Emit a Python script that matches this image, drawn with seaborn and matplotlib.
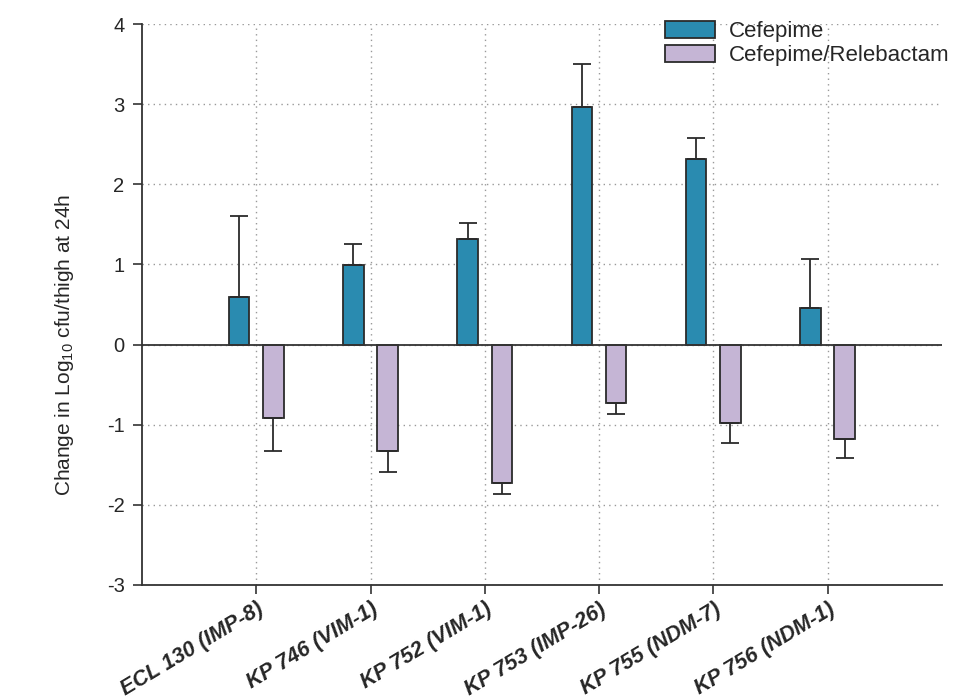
import pandas as pd
import matplotlib.pyplot as plt
import seaborn as sns

# values
strains = ['ECL 130 (IMP-8)', 'KP 746 (VIM-1)', 'KP 752 (VIM-1)',
           'KP 753 (IMP-26)', 'KP 755 (NDM-7)', 'KP 756 (NDM-1)']
cefepime = [0.59, 0.99, 1.32, 2.96, 2.31, 0.46]
cefepime_err = [1.01, 0.26, 0.20, 0.54, 0.27, 0.61]
combo = [-0.92, -1.33, -1.73, -0.73, -0.98, -1.18]
combo_err = [0.41, 0.26, 0.13, 0.14, 0.25, 0.23]
treatments = ['Cefepime', 'Cefepime/Relebactam']
colors = ['#2a8bb0', '#c5b5d5']

df = pd.DataFrame({
    'strain': strains * 2,
    'change': cefepime + combo,
    'treatment': [treatments[0]] * 6 + [treatments[1]] * 6,
})

sns.set_style("white")
plt.rcParams['font.family'] = ['Liberation Sans', 'DejaVu Sans']
plt.rcParams['axes.unicode_minus'] = False
plt.rcParams['mathtext.fontset'] = 'custom'
plt.rcParams['mathtext.rm'] = 'Liberation Sans'
plt.rcParams['mathtext.it'] = 'Liberation Sans:italic'

fig = plt.figure(figsize=(9.69, 7), dpi=100)
ax = fig.add_axes([0.1465, 0.1643, 0.8255, 0.8014])

sns.barplot(data=df, x='strain', y='change', hue='treatment', palette=colors,
            saturation=1, width=0.6, gap=0.4, edgecolor='#2b2b2b',
            linewidth=1.3, errorbar=None, ax=ax)

# one-sided error bars, placed on the bars seaborn drew
errs = [cefepime_err, combo_err]
vals = [cefepime, combo]
for cont, e, v in zip(ax.containers, errs, vals):
    xs = [b.get_x() + b.get_width() / 2 for b in cont]
    lo = [err if val < 0 else 0 for err, val in zip(e, v)]
    hi = [err if val >= 0 else 0 for err, val in zip(e, v)]
    ax.errorbar(xs, v, yerr=[lo, hi], fmt='none', ecolor='#2b2b2b',
                elinewidth=1.3, capsize=6.5, capthick=1.3, zorder=1)

ax.axhline(0, color='#333333', lw=1.3, zorder=3)
ax.set_xlim(-1, 6)
ax.set_ylim(-3, 4)
ax.set_yticks(range(-3, 5))
ax.grid(True, linestyle=(0, (1, 3)), color='#999999', linewidth=1)
ax.set_axisbelow(True)

for s in ['top', 'right']:
    ax.spines[s].set_visible(False)
for s in ['left', 'bottom']:
    ax.spines[s].set_color('#333333')
    ax.spines[s].set_linewidth(1.3)

ax.tick_params(axis='both', bottom=True, left=True, direction='out',
               length=6.5, width=1.2, color='#333333', labelsize=14.5)
ax.tick_params(axis='y', pad=6)
ax.set_xlabel('')
ax.set_ylabel(r'Change in Log$_{10}$ cfu/thigh at 24h', fontsize=15)
ax.yaxis.set_label_coords(-0.082, 0.428)
plt.setp(ax.get_xticklabels(), rotation=31, ha='right', rotation_mode='anchor',
         fontweight='bold', fontstyle='italic', fontsize=15.5)

ax.legend(loc='upper right', bbox_to_anchor=(1.012, 1.01), frameon=False,
          fontsize=16, handlelength=2.25, handleheight=0.8, borderpad=0.1,
          borderaxespad=0, labelspacing=0.12, handletextpad=0.6)

fig.savefig('out.png', dpi=100)
